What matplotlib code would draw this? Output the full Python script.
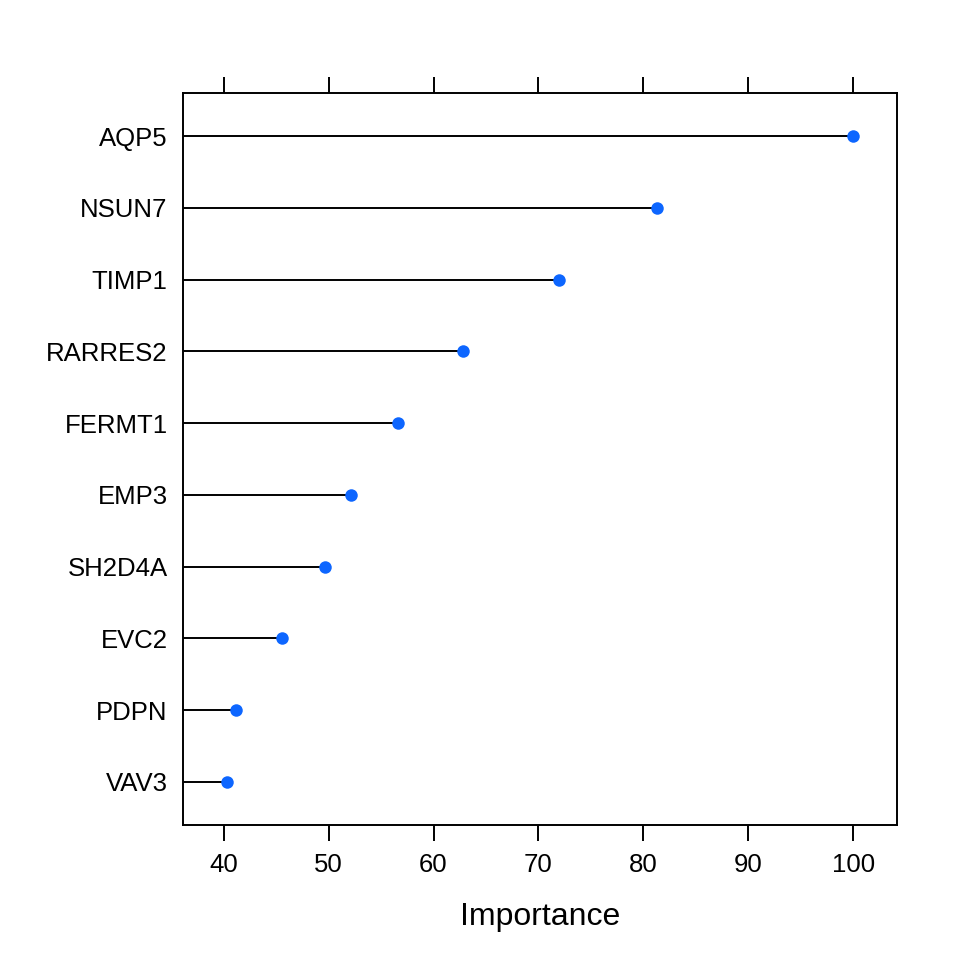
import matplotlib.pyplot as plt
import numpy as np

plt.rcParams['font.family'] = ['Liberation Sans', 'DejaVu Sans']

genes = ["AQP5", "NSUN7", "TIMP1", "RARRES2", "FERMT1",
         "EMP3", "SH2D4A", "EVC2", "PDPN", "VAV3"]
importance = [100.0, 81.3, 72.0, 62.8, 56.6, 52.1, 49.7, 45.6, 41.2, 40.3]
xticks = [40, 50, 60, 70, 80, 90, 100]

fig = plt.figure(figsize=(9.6, 9.6), dpi=100)
ax = fig.add_axes([0.1906, 0.1406, 0.9344 - 0.1906, 0.9031 - 0.1406])

n = len(genes)
ypos = np.arange(n, 0, -1)
lo = min(importance)
hi = max(importance)
pad = (hi - lo) * 0.07
xmin = lo - pad
xmax = hi + pad

ax.hlines(ypos, xmin, importance, color="black", linewidth=1.4)
ax.plot(importance, ypos, "o", color="#0d66ff", markersize=9, markeredgewidth=0)

ax.set_xlim(xmin, xmax)
ax.set_ylim(0.4, n + 0.6)
ax.set_yticks(ypos)
ax.set_yticklabels(genes, fontsize=18.5)
ax.tick_params(axis="y", length=0, pad=11)
ax.set_xticks(xticks)
ax.tick_params(axis="x", which="both", direction="out", length=11.5, width=1.4,
               top=True, labeltop=False, labelsize=18.5, pad=9)
for s in ax.spines.values():
    s.set_linewidth(1.4)
ax.set_xlabel("Importance", fontsize=23, labelpad=18)

fig.savefig("out.png", dpi=100)
